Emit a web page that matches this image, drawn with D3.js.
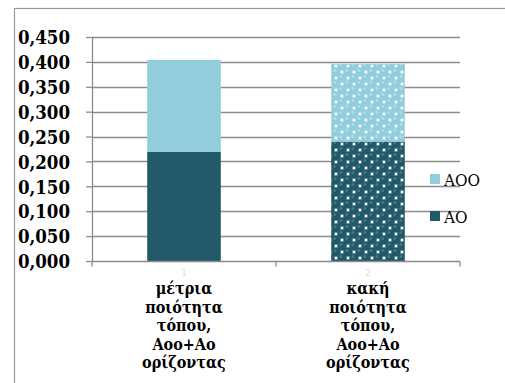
<!DOCTYPE html>
<html>
<head>
<meta charset="utf-8">
<script src="https://cdn.jsdelivr.net/npm/d3@7"></script>
<style>
  html, body { margin: 0; padding: 0; background: #fff; }
  svg { display: block; }
  text.serif { font-family: "DejaVu Serif Condensed", "DejaVu Serif", serif; font-stretch: condensed; }
</style>
</head>
<body>
<div id="chart"></div>
<script>
// Soil horizon values for two site-quality classes
const categories = [
  ["μέτρια", "ποιότητα", "τόπου,", "Aoo+Ao", "ορίζοντας"],
  ["κακή", "ποιότητα", "τόπου,", "Aoo+Ao", "ορίζοντας"]
];
const categoryIndex = ["1", "2"];
const seriesNames = ["AO", "AOO"];
const valuesAO = [0.219, 0.240];
const valuesAOO = [0.185, 0.156];
const yTicks = [0, 0.05, 0.1, 0.15, 0.2, 0.25, 0.3, 0.35, 0.4, 0.45];

const W = 505, H = 383;
const colors = { AO: "#215968", AOO: "#92cddc" };
const gridColor = "#8c8c8c";

const svg = d3.select("#chart").append("svg")
  .attr("width", W).attr("height", H);

const defs = svg.append("defs");
// Bubble fill used by the second bar
function bubblePattern(id, color, light) {
  const s = 12;
  const p = defs.append("pattern")
    .attr("id", id).attr("patternUnits", "userSpaceOnUse")
    .attr("width", s).attr("height", s);
  p.append("rect").attr("width", s).attr("height", s).attr("fill", "#fff");
  const pts = [[0, 0], [s, 0], [0, s], [s, s], [s / 2, s / 2]];
  pts.forEach(([cx, cy]) => {
    p.append("circle").attr("cx", cx).attr("cy", cy).attr("r", 4.8).attr("fill", color);
    p.append("circle").attr("cx", cx - 1.2).attr("cy", cy - 1.5).attr("r", 1.5)
      .attr("fill", light).attr("opacity", 0.45);
  });
}
bubblePattern("bubAO", colors.AO, "#6f9aa6");
bubblePattern("bubAOO", colors.AOO, "#d6eef4");

// Chart frame
svg.append("rect")
  .attr("x", 14.5).attr("y", 8.5).attr("width", W).attr("height", H)
  .attr("fill", "none").attr("stroke", "#9a9a9a").attr("stroke-width", 1.2);

const x = d3.scaleBand().domain(categoryIndex).range([92, 460])
  .paddingInner(0.6).paddingOuter(0.3);
const y = d3.scaleLinear().domain([0, 0.45]).range([261, 37]);

const fmt = v => d3.format(".3f")(v).replace(".", ",");

// Horizontal gridlines
svg.append("g").selectAll("line").data(yTicks.slice(1)).join("line")
  .attr("x1", 92).attr("x2", 460)
  .attr("y1", d => Math.round(y(d)) + 0.5).attr("y2", d => Math.round(y(d)) + 0.5)
  .attr("stroke", gridColor).attr("stroke-width", 1.3);

// Y axis
const yAxis = svg.append("g").attr("transform", "translate(92,0)")
  .call(d3.axisLeft(y).tickValues(yTicks).tickFormat(fmt).tickSizeInner(6).tickSizeOuter(0).tickPadding(16));
yAxis.attr("font-family", null).attr("font-size", null);
yAxis.select(".domain").attr("stroke", gridColor).attr("stroke-width", 1.3);
yAxis.selectAll(".tick line").attr("stroke", gridColor).attr("stroke-width", 1.3);
yAxis.selectAll(".tick text")
  .attr("class", "serif")
  .attr("fill", "#000").attr("font-size", 18.5)
  .attr("font-weight", "bold").attr("dy", "0.36em");

// Stacked bars
const stackData = categoryIndex.map((c, i) => ({ cat: c, AO: valuesAO[i], AOO: valuesAOO[i] }));
const stacked = d3.stack().keys(seriesNames)(stackData);
const fills = (key, i) => i === 1 ? (key === "AO" ? "url(#bubAO)" : "url(#bubAOO)") : colors[key];
stacked.forEach(layer => {
  svg.append("g").selectAll("rect").data(layer).join("rect")
    .attr("x", d => x(d.data.cat))
    .attr("width", x.bandwidth())
    .attr("y", d => y(d[1]))
    .attr("height", d => y(d[0]) - y(d[1]))
    .attr("fill", (d, i) => fills(layer.key, i));
});

// X axis
const xAxis = svg.append("g").attr("transform", "translate(0,261.5)");
xAxis.append("line").attr("x1", 92).attr("x2", 460)
  .attr("stroke", gridColor).attr("stroke-width", 1.3);
const edges = [92, 276, 460];
xAxis.selectAll(".edge").data(edges).join("line").attr("class", "edge")
  .attr("x1", d => d).attr("x2", d => d).attr("y1", 0).attr("y2", 5)
  .attr("stroke", gridColor).attr("stroke-width", 1.3);

// Faint category indices
svg.append("g").selectAll("text").data(categoryIndex).join("text")
  .attr("x", d => x(d) + x.bandwidth() / 2).attr("y", 276)
  .attr("text-anchor", "middle").attr("font-family", "DejaVu Sans")
  .attr("font-size", 9).attr("fill", "#e6dcc8").text(d => d);

// Category labels
categoryIndex.forEach((c, i) => {
  const t = svg.append("text")
    .attr("class", "serif")
    .attr("text-anchor", "middle")
    .attr("font-weight", "bold").attr("font-size", 16).attr("fill", "#000");
  categories[i].forEach((line, k) => {
    t.append("tspan").attr("x", x(c) + x.bandwidth() / 2).attr("y", 294 + k * 18.5).text(line);
  });
});

// Legend
const legendItems = ["AOO", "AO"];
const legend = svg.append("g");
legendItems.forEach((key, i) => {
  const ly = 174 + i * 37;
  legend.append("rect").attr("x", 430).attr("y", ly).attr("width", 10).attr("height", 10)
    .attr("fill", colors[key]);
  legend.append("text").attr("class", "serif").attr("x", 444).attr("y", ly + 12)
    .attr("font-size", 17).attr("fill", "#000").text(key);
});
</script>
</body>
</html>
